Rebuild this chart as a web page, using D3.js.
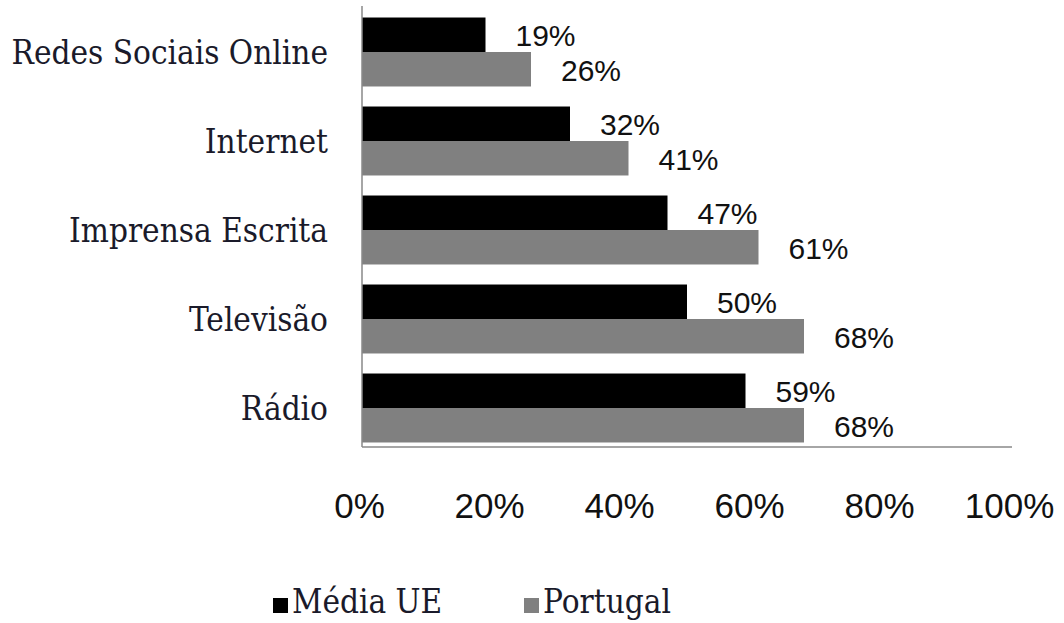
<!DOCTYPE html>
<html>
<head>
<meta charset="utf-8">
<script src="https://cdn.jsdelivr.net/npm/d3@7"></script>
<style>
  body { margin: 0; background: #fff; }
  svg { display: block; }
</style>
</head>
<body>
<svg id="chart" width="1064" height="623"></svg>
<script>
const categories = ['Redes Sociais Online', 'Internet', 'Imprensa Escrita', 'Televisão', 'Rádio'];
const series = ['Média UE', 'Portugal'];
const mediaUE = [19, 32, 47, 50, 59];
const portugal = [26, 41, 61, 68, 68];
const xTicks = [0, 20, 40, 60, 80, 100];
const colors = ['#000000', '#808080'];

const serif = '"DejaVu Serif Condensed", "DejaVu Serif", serif';
const sans = '"Liberation Sans", Arial, sans-serif';

const svg = d3.select('#chart');

const x = d3.scaleLinear().domain([0, 100]).range([362, 1012]);
const y = d3.scaleBand().domain(categories).range([7.5, 452.5])
    .paddingInner(0.225).paddingOuter(0.1125);
const ySub = d3.scaleBand().domain(series).range([0, y.bandwidth()]);

const rows = categories.map((c, i) => ({
  cat: c,
  vals: [{s: series[0], v: mediaUE[i]}, {s: series[1], v: portugal[i]}]
}));

// bars
const groups = svg.append('g').selectAll('g')
    .data(rows).enter()
    .append('g')
    .attr('transform', (d) => 'translate(0,' + y(d.cat) + ')');

groups.selectAll('rect')
    .data((d) => d.vals).enter()
    .append('rect')
    .attr('x', x(0))
    .attr('y', (d) => ySub(d.s))
    .attr('width', (d) => x(d.v) - x(0))
    .attr('height', ySub.bandwidth())
    .attr('fill', (d, i) => colors[i]);

groups.selectAll('text')
    .data((d) => d.vals).enter()
    .append('text')
    .attr('x', (d) => x(d.v) + 30)
    .attr('y', (d) => ySub(d.s) + ySub.bandwidth() / 2)
    .attr('dy', '0.38em')
    .style('font-family', sans)
    .style('font-size', '30px')
    .attr('fill', '#111')
    .text((d) => d.v + '%');

// category labels
svg.append('g').selectAll('text')
    .data(categories).enter()
    .append('text')
    .attr('x', 328)
    .attr('y', (d) => y(d) + y.bandwidth() / 2)
    .attr('dy', '0.35em')
    .attr('text-anchor', 'end')
    .style('font-family', serif)
    .style('font-size', '33px')
    .attr('fill', '#1a1a2a')
    .text((d) => d);

// axis lines
svg.append('line')
    .attr('x1', x(0)).attr('x2', x(0))
    .attr('y1', 6).attr('y2', 447)
    .attr('stroke', '#888').attr('stroke-width', 1.5);
svg.append('line')
    .attr('x1', x(0)).attr('x2', x(100))
    .attr('y1', 447).attr('y2', 447)
    .attr('stroke', '#888').attr('stroke-width', 1.5);

// x tick labels
const xAxis = svg.append('g')
    .attr('transform', 'translate(-3,490)')
    .call(d3.axisBottom(x).tickValues(xTicks).tickSize(0)
        .tickFormat((d) => d + '%'));
xAxis.select('.domain').remove();
xAxis.selectAll('text')
    .attr('dy', '0.71em')
    .style('font-family', sans)
    .style('font-size', '35px')
    .attr('fill', '#111');

// legend
const legendX = [273, 524];
const legend = svg.append('g').selectAll('g')
    .data(series).enter()
    .append('g')
    .attr('transform', (d, i) => 'translate(' + legendX[i] + ',0)');
legend.append('rect')
    .attr('x', 0).attr('y', 598)
    .attr('width', 15).attr('height', 15)
    .attr('fill', (d, i) => colors[i]);
legend.append('text')
    .attr('x', 19).attr('y', 613)
    .style('font-family', serif)
    .style('font-size', '33px')
    .attr('fill', '#1a1a2a')
    .text((d) => d);
</script>
</body>
</html>
